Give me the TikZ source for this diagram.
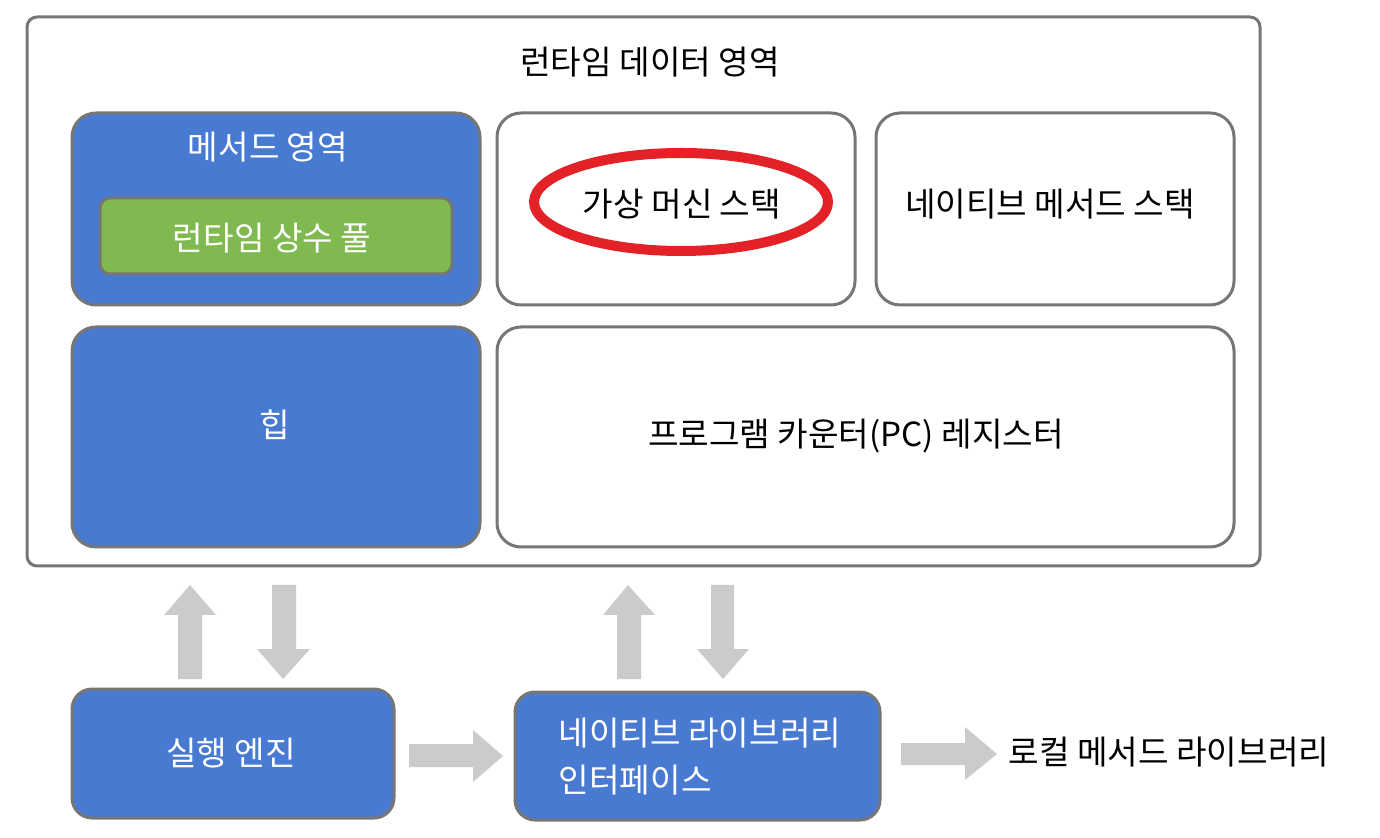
\documentclass[tikz,border=0pt]{standalone}
\usepackage{fontspec}
\setmainfont{Noto Sans CJK KR}
\definecolor{jblue}{HTML}{487AD2}
\definecolor{jgreen}{HTML}{7FB94F}
\definecolor{jgray}{HTML}{767676}
\definecolor{jarrow}{HTML}{CBCBCB}
\definecolor{jred}{HTML}{E32228}
\begin{document}
\begin{tikzpicture}[x=0.5pt,y=-0.5pt,
  base/.style={draw=jgray, line width=1.5pt, font=\fontsize{16.6}{23.5}\selectfont, inner sep=0pt},
  bluebox/.style={base, fill=jblue, text=white, rounded corners=12pt},
  whitebox/.style={base, fill=white, text=black, rounded corners=12pt},
  greenbox/.style={base, fill=jgreen, text=white, rounded corners=5pt},
  lowbox/.style={base, fill=jblue, text=white, rounded corners=10pt},
  label/.style={font=\fontsize{16.6}{23.5}\selectfont, inner sep=0pt},
  blockarrow/.style={fill=jarrow, draw=none}
]
\useasboundingbox (0,0) rectangle (1380,838);
% outer runtime data area
\node[base, fill=white, rounded corners=5pt, minimum width=616.5pt, minimum height=274.5pt] (outer) at (643.5,291.5) {};
\node[label] (title) at (650,62) {런타임 데이터 영역};
% method area
\node[bluebox, minimum width=204pt, minimum height=96pt] (method) at (276,209) {};
\node[label, text=white] (methodlbl) at (268,147) {메서드 영역};
\node[greenbox, minimum width=176pt, minimum height=38pt] (pool) at (276,236) {};
\node[label, text=white] (poollbl) at (272,238) {런타임 상수 풀};
% VM stack
\node[whitebox, minimum width=179pt, minimum height=96pt] (vmstack) at (676,209) {};
\draw[jred, line width=5pt] (681,202) ellipse [x radius=73.5pt, y radius=24.5pt];
\node[label] (vmlbl) at (682,204) {가상 머신 스택};
% native method stack
\node[whitebox, minimum width=179pt, minimum height=96pt] (nstack) at (1055,209) {};
\node[label] (nstacklbl) at (1050,204) {네이티브 메서드 스택};
% heap
\node[bluebox, minimum width=204pt, minimum height=110pt] (heap) at (276,437) {};
\node[label, text=white] (heaplbl) at (275,425) {힙};
% PC register
\node[whitebox, minimum width=368.5pt, minimum height=110pt] (pc) at (865.5,437) {};
\node[label] (pclbl) at (856,436) {프로그램 카운터(PC) 레지스터};
% execution engine
\node[lowbox, minimum width=161pt, minimum height=64.5pt] (engine) at (233,753.5) {};
\node[label, text=white] (enginelbl) at (231,753) {실행 엔진};
% native library interface
\node[lowbox, minimum width=182.5pt, minimum height=64pt] (nli) at (697.5,756) {};
\node[label, text=white, align=left] (nlilbl) at (700,757) {네이티브 라이브러리\\인터페이스};
% local method library
\node[label] (local) at (1169,752) {로컬 메서드 라이브러리};
% block arrows
\fill[blockarrow] (190,585) -- (216,615) -- (202,615) -- (202,679) -- (178,679) -- (178,615) -- (164,615) -- cycle;
\fill[blockarrow] (272,585) -- (296,585) -- (296,649) -- (310,649) -- (283,679) -- (257,649) -- (272,649) -- cycle;
\fill[blockarrow] (628,585) -- (655,615) -- (641,615) -- (641,679) -- (617,679) -- (617,615) -- (603,615) -- cycle;
\fill[blockarrow] (711,585) -- (734,585) -- (734,649) -- (749,649) -- (723,679) -- (697,649) -- (711,649) -- cycle;
\fill[blockarrow] (409,744) -- (473,744) -- (473,730) -- (503,756) -- (473,782) -- (473,767) -- (409,767) -- cycle;
\fill[blockarrow] (901,743) -- (965,743) -- (965,727) -- (997,754) -- (965,780) -- (965,765) -- (901,765) -- cycle;
\end{tikzpicture}
\end{document}
